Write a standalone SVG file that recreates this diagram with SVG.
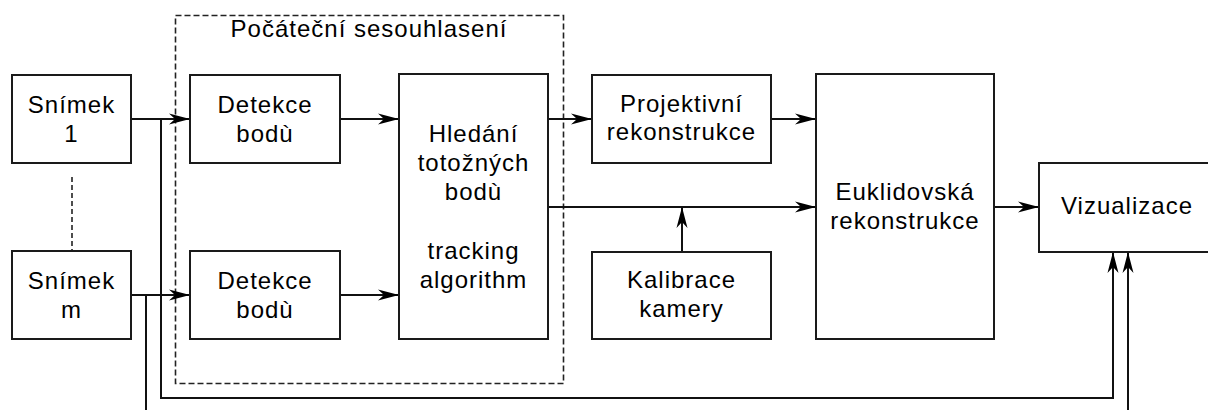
<svg xmlns="http://www.w3.org/2000/svg" width="1208" height="410" viewBox="0 0 1208 410">
<defs>
<style>
.box{fill:#fff;stroke:#1a1a1a;stroke-width:2}
.t{font-family:"Liberation Sans",Arial,sans-serif;font-size:24px;letter-spacing:1px;fill:#000;text-anchor:middle}
.c{fill:none;stroke:#111;stroke-width:2}
.dash{fill:none;stroke:#222;stroke-width:1.6;stroke-dasharray:6 3}
</style>
<marker id="ah" markerUnits="userSpaceOnUse" markerWidth="22" markerHeight="12" refX="21" refY="6" orient="auto">
<path d="M0,0.5 L21,6 L0,11.5 L6,6 z" fill="#000"/>
</marker>
</defs>
<rect width="1208" height="410" fill="#fff"/>

<g id="group-initial">
<rect class="dash" x="175.5" y="15.5" width="388" height="368"/>
<text class="t" x="369" y="37">Počáteční sesouhlasení</text>
</g>

<g id="connectors">
<line class="dash" x1="72" y1="177" x2="72" y2="250" style="stroke-dasharray:5 3"/>
<line class="c" x1="131" y1="119" x2="190" y2="119" marker-end="url(#ah)"/>
<line class="c" x1="131" y1="295" x2="190" y2="295" marker-end="url(#ah)"/>
<line class="c" x1="340" y1="119" x2="399" y2="119" marker-end="url(#ah)"/>
<line class="c" x1="340" y1="295" x2="399" y2="295" marker-end="url(#ah)"/>
<line class="c" x1="548" y1="119" x2="592" y2="119" marker-end="url(#ah)"/>
<line class="c" x1="771" y1="119" x2="816" y2="119" marker-end="url(#ah)"/>
<line class="c" x1="548" y1="207" x2="816" y2="207" marker-end="url(#ah)"/>
<line class="c" x1="682" y1="252" x2="682" y2="207" marker-end="url(#ah)"/>
<line class="c" x1="994" y1="207" x2="1039" y2="207" marker-end="url(#ah)"/>
<polyline class="c" points="161,119 161,398 1113,398 1113,252" marker-end="url(#ah)"/>
<line class="c" x1="146" y1="295" x2="146" y2="412"/>
<line class="c" x1="1128" y1="412" x2="1128" y2="252" marker-end="url(#ah)"/>
</g>

<g id="snimek1">
<rect class="box" x="12" y="75" width="119" height="88"/>
<text class="t" x="71.5" y="113">Snímek</text>
<text class="t" x="71.5" y="142">1</text>
</g>
<g id="snimekm">
<rect class="box" x="12" y="251" width="119" height="88"/>
<text class="t" x="71.5" y="289">Snímek</text>
<text class="t" x="71.5" y="318">m</text>
</g>
<g id="detekce1">
<rect class="box" x="190" y="75" width="150" height="88"/>
<text class="t" x="265" y="113">Detekce</text>
<text class="t" x="265" y="142">bodù</text>
</g>
<g id="detekce2">
<rect class="box" x="190" y="251" width="150" height="88"/>
<text class="t" x="265" y="289">Detekce</text>
<text class="t" x="265" y="318">bodù</text>
</g>
<g id="hledani">
<rect class="box" x="399" y="74" width="149" height="265"/>
<text class="t" x="473.5" y="142">Hledání</text>
<text class="t" x="473.5" y="171">totožných</text>
<text class="t" x="473.5" y="200">bodù</text>
<text class="t" x="473.5" y="259">tracking</text>
<text class="t" x="473.5" y="288">algorithm</text>
</g>
<g id="projektivni">
<rect class="box" x="592" y="75" width="179" height="88"/>
<text class="t" x="681.5" y="112">Projektivní</text>
<text class="t" x="681.5" y="140">rekonstrukce</text>
</g>
<g id="kalibrace">
<rect class="box" x="592" y="252" width="179" height="87"/>
<text class="t" x="681.5" y="288">Kalibrace</text>
<text class="t" x="681.5" y="317">kamery</text>
</g>
<g id="euklid">
<rect class="box" x="816" y="74" width="178" height="265"/>
<text class="t" x="905" y="200">Euklidovská</text>
<text class="t" x="905" y="229">rekonstrukce</text>
</g>
<g id="vizualizace">
<rect class="box" x="1039" y="163" width="176" height="89"/>
<text class="t" x="1127" y="214">Vizualizace</text>
</g>
</svg>
